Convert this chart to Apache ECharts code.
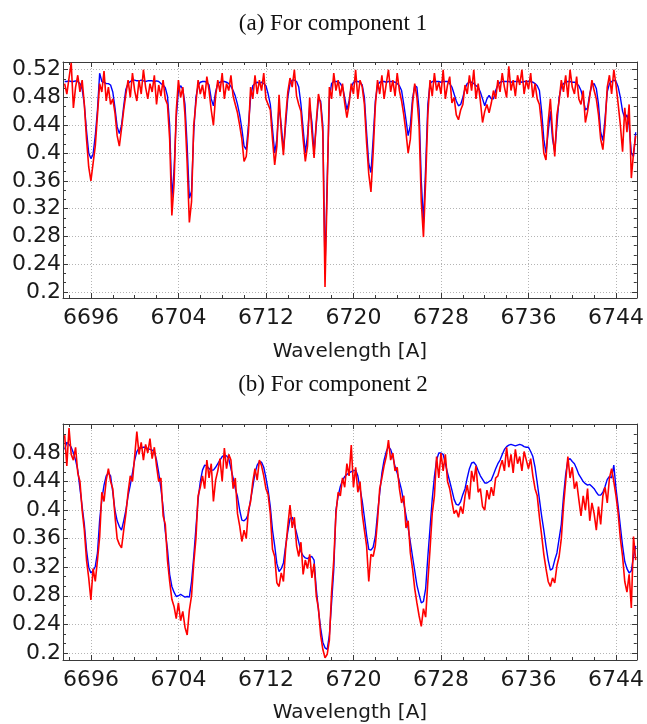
<!DOCTYPE html>
<html>
<head>
<meta charset="utf-8">
<script src="https://cdn.jsdelivr.net/npm/echarts@6/dist/echarts.min.js"></script>
<style>
html,body{margin:0;padding:0;background:#fff;}
#chart{width:647px;height:724px;}
</style>
</head>
<body>
<div id="chart"></div>
<script>
// wavelength grid (Angstrom)
const wlStart = 6693.6;
const wlStep = 0.2;

// tick labels
const xTicks = [6696, 6704, 6712, 6720, 6728, 6736, 6744];
const yTicks1 = [0.2, 0.24, 0.28, 0.32, 0.36, 0.4, 0.44, 0.48, 0.52];
const yTicks2 = [0.2, 0.24, 0.28, 0.32, 0.36, 0.4, 0.44, 0.48];

const titles = ['(a) For component 1', '(b) For component 2'];
const xName = 'Wavelength [A]';

// (a) component 1 : model (blue)
const model1 = [
0.503,0.503,0.504,0.503,0.503,0.504,0.503,0.500,0.492,0.470,
0.432,0.400,0.392,0.398,0.425,0.462,0.515,0.503,0.502,0.500,
0.500,0.498,0.488,0.465,0.438,0.428,0.440,0.468,0.492,0.500,
0.503,0.505,0.505,0.504,0.504,0.505,0.504,0.503,0.504,0.504,
0.504,0.503,0.504,0.503,0.500,0.498,0.494,0.482,0.440,0.335,
0.375,0.450,0.490,0.497,0.492,0.470,0.410,0.335,0.345,0.430,
0.480,0.497,0.502,0.503,0.503,0.502,0.498,0.478,0.468,0.488,
0.500,0.502,0.503,0.503,0.502,0.500,0.496,0.490,0.482,0.470,
0.455,0.435,0.410,0.405,0.440,0.480,0.497,0.500,0.502,0.500,
0.502,0.500,0.497,0.485,0.470,0.435,0.400,0.420,0.468,0.440,
0.405,0.440,0.480,0.500,0.505,0.505,0.503,0.495,0.470,0.435,
0.400,0.425,0.468,0.445,0.400,0.440,0.478,0.475,0.440,0.232,
0.360,0.480,0.500,0.503,0.503,0.503,0.500,0.495,0.480,0.462,
0.475,0.495,0.502,0.503,0.503,0.502,0.498,0.480,0.430,0.385,
0.372,0.420,0.475,0.498,0.502,0.503,0.503,0.502,0.503,0.503,
0.503,0.502,0.500,0.497,0.490,0.470,0.448,0.425,0.440,0.478,
0.497,0.495,0.462,0.360,0.300,0.380,0.470,0.500,0.503,0.503,
0.503,0.503,0.502,0.503,0.503,0.503,0.500,0.495,0.485,0.475,
0.468,0.470,0.480,0.493,0.500,0.502,0.502,0.500,0.497,0.495,
0.488,0.478,0.468,0.478,0.483,0.478,0.478,0.490,0.498,0.502,
0.503,0.503,0.503,0.503,0.502,0.503,0.503,0.503,0.503,0.502,
0.503,0.503,0.503,0.503,0.502,0.500,0.497,0.490,0.460,0.420,
0.400,0.430,0.460,0.420,0.402,0.440,0.480,0.495,0.500,0.502,
0.503,0.503,0.502,0.502,0.500,0.497,0.490,0.478,0.462,0.465,
0.485,0.498,0.500,0.493,0.470,0.430,0.418,0.450,0.488,0.500,
0.503,0.505,0.503,0.495,0.480,0.460,0.450,0.455,0.440,0.400,
0.395,0.430
];

// (a) component 1 : observed (red)
const obs1 = [
0.500,0.485,0.508,0.530,0.465,0.495,0.512,0.488,0.505,0.470,
0.420,0.380,0.360,0.385,0.410,0.455,0.500,0.488,0.518,0.475,
0.495,0.470,0.478,0.458,0.425,0.410,0.435,0.462,0.485,0.505,
0.480,0.515,0.490,0.475,0.505,0.485,0.520,0.495,0.478,0.500,
0.488,0.512,0.470,0.498,0.482,0.505,0.478,0.470,0.420,0.310,
0.355,0.460,0.505,0.480,0.495,0.455,0.385,0.300,0.330,0.440,
0.472,0.505,0.485,0.498,0.478,0.510,0.490,0.462,0.440,0.482,
0.505,0.488,0.515,0.478,0.500,0.490,0.512,0.482,0.470,0.458,
0.440,0.420,0.388,0.395,0.430,0.495,0.478,0.512,0.485,0.505,
0.490,0.515,0.478,0.470,0.462,0.420,0.383,0.410,0.484,0.430,
0.397,0.450,0.488,0.508,0.495,0.520,0.482,0.470,0.460,0.420,
0.388,0.410,0.480,0.430,0.393,0.445,0.485,0.470,0.430,0.207,
0.350,0.495,0.478,0.515,0.490,0.505,0.482,0.500,0.472,0.451,
0.470,0.500,0.485,0.520,0.478,0.505,0.495,0.470,0.415,0.370,
0.344,0.400,0.468,0.505,0.485,0.512,0.478,0.500,0.520,0.488,
0.505,0.482,0.515,0.490,0.475,0.455,0.430,0.400,0.420,0.470,
0.500,0.480,0.440,0.330,0.279,0.360,0.455,0.505,0.482,0.515,
0.490,0.502,0.485,0.520,0.478,0.498,0.510,0.472,0.480,0.455,
0.448,0.462,0.470,0.498,0.485,0.512,0.490,0.520,0.478,0.500,
0.475,0.444,0.460,0.470,0.458,0.472,0.490,0.478,0.505,0.488,
0.515,0.495,0.480,0.525,0.490,0.505,0.482,0.512,0.498,0.520,
0.485,0.505,0.492,0.515,0.480,0.500,0.478,0.470,0.440,0.400,
0.390,0.445,0.478,0.430,0.395,0.455,0.475,0.505,0.488,0.512,
0.480,0.520,0.495,0.485,0.510,0.478,0.470,0.490,0.444,0.460,
0.482,0.505,0.490,0.478,0.455,0.420,0.405,0.440,0.495,0.512,
0.485,0.520,0.498,0.470,0.440,0.402,0.465,0.430,0.470,0.364,
0.400,0.425
];

// (b) component 2 : model (blue)
const model2 = [
0.485,0.495,0.492,0.488,0.480,0.470,0.456,0.430,0.405,0.380,
0.344,0.320,0.312,0.315,0.321,0.340,0.386,0.415,0.435,0.448,
0.452,0.448,0.425,0.400,0.385,0.377,0.372,0.385,0.400,0.420,
0.435,0.452,0.470,0.482,0.487,0.487,0.488,0.488,0.486,0.485,
0.484,0.482,0.470,0.452,0.430,0.404,0.370,0.345,0.310,0.293,
0.285,0.279,0.280,0.282,0.280,0.278,0.279,0.278,0.300,0.335,
0.375,0.415,0.440,0.456,0.463,0.462,0.458,0.456,0.456,0.460,
0.465,0.470,0.475,0.477,0.476,0.472,0.458,0.445,0.430,0.419,
0.400,0.386,0.385,0.388,0.395,0.415,0.432,0.452,0.463,0.468,
0.467,0.460,0.445,0.428,0.405,0.372,0.350,0.325,0.314,0.318,
0.326,0.350,0.370,0.388,0.390,0.380,0.368,0.355,0.342,0.336,
0.333,0.332,0.334,0.335,0.330,0.290,0.260,0.235,0.215,0.207,
0.205,0.225,0.270,0.316,0.400,0.420,0.433,0.442,0.447,0.450,
0.452,0.454,0.455,0.456,0.448,0.430,0.413,0.390,0.365,0.345,
0.344,0.348,0.363,0.395,0.424,0.452,0.470,0.482,0.489,0.485,
0.475,0.461,0.452,0.440,0.428,0.410,0.393,0.375,0.355,0.335,
0.315,0.295,0.282,0.270,0.272,0.290,0.335,0.375,0.415,0.447,
0.470,0.480,0.480,0.478,0.465,0.452,0.440,0.428,0.415,0.408,
0.407,0.412,0.422,0.430,0.445,0.458,0.466,0.467,0.463,0.455,
0.448,0.443,0.438,0.438,0.440,0.442,0.450,0.458,0.465,0.470,
0.478,0.485,0.489,0.491,0.492,0.491,0.490,0.491,0.492,0.491,
0.489,0.488,0.488,0.482,0.475,0.460,0.438,0.415,0.392,0.372,
0.350,0.330,0.316,0.318,0.330,0.340,0.360,0.380,0.419,0.450,
0.470,0.472,0.468,0.465,0.458,0.450,0.445,0.440,0.437,0.435,
0.436,0.433,0.430,0.425,0.421,0.421,0.425,0.433,0.443,0.447,
0.445,0.463,0.430,0.405,0.377,0.350,0.328,0.318,0.312,0.315,
0.335,0.350
];

// (b) component 2 : observed (red)
const obs2 = [
0.505,0.462,0.515,0.478,0.470,0.488,0.452,0.440,0.400,0.372,
0.330,0.305,0.274,0.318,0.300,0.330,0.362,0.425,0.412,0.442,
0.458,0.440,0.430,0.392,0.360,0.352,0.347,0.372,0.395,0.425,
0.448,0.440,0.475,0.510,0.478,0.495,0.470,0.492,0.480,0.500,
0.472,0.488,0.462,0.440,0.445,0.392,0.380,0.330,0.300,0.275,
0.265,0.248,0.270,0.245,0.258,0.236,0.225,0.260,0.280,0.325,
0.360,0.420,0.432,0.448,0.430,0.470,0.445,0.465,0.412,0.442,
0.455,0.472,0.440,0.487,0.458,0.478,0.470,0.430,0.445,0.395,
0.378,0.356,0.372,0.360,0.400,0.412,0.440,0.458,0.442,0.470,
0.462,0.448,0.430,0.422,0.395,0.345,0.335,0.298,0.293,0.312,
0.300,0.345,0.378,0.407,0.375,0.390,0.350,0.335,0.355,0.310,
0.330,0.318,0.338,0.305,0.325,0.280,0.262,0.225,0.205,0.193,
0.198,0.218,0.285,0.330,0.395,0.425,0.420,0.445,0.432,0.465,
0.448,0.491,0.432,0.460,0.425,0.440,0.395,0.372,0.350,0.300,
0.338,0.335,0.350,0.385,0.430,0.445,0.462,0.475,0.498,0.470,
0.480,0.455,0.460,0.430,0.410,0.420,0.375,0.385,0.340,0.318,
0.290,0.270,0.252,0.237,0.262,0.250,0.300,0.345,0.395,0.420,
0.475,0.445,0.480,0.455,0.478,0.440,0.430,0.412,0.395,0.400,
0.390,0.405,0.395,0.420,0.435,0.415,0.455,0.440,0.462,0.425,
0.430,0.405,0.400,0.428,0.415,0.432,0.420,0.445,0.448,0.460,
0.470,0.455,0.488,0.460,0.478,0.452,0.485,0.465,0.475,0.455,
0.482,0.470,0.458,0.472,0.448,0.430,0.420,0.390,0.365,0.338,
0.318,0.300,0.293,0.305,0.298,0.322,0.335,0.360,0.405,0.440,
0.475,0.445,0.460,0.430,0.440,0.415,0.392,0.420,0.400,0.430,
0.385,0.410,0.395,0.372,0.405,0.380,0.420,0.432,0.410,0.445,
0.458,0.440,0.420,0.395,0.360,0.335,0.300,0.285,0.310,0.263,
0.363,0.330
];

const wavelength = model1.map((_, i) => +(wlStart + i * wlStep).toFixed(1));
const pairs = arr => arr.map((v, i) => [wavelength[i], v]);

const X_MIN = 6693.45, X_MAX = 6745.9;
const Y_RANGE = [[0.1913, 0.5311], [0.19, 0.5206]];
const xMinor = [];
for (let v = 6694; v <= 6745; v += 2) xMinor.push(v);
function yMinorFor(max) {
  const out = [];
  for (let j = 0; 0.2 + j * 0.04 / 3 <= max; j++) out.push(+(0.2 + j * 0.04 / 3).toFixed(5));
  return out;
}

const FRAME = '#3a3a3a';
const FONT = 'DejaVu Sans';
const grids = [
  { left: 63, right: 9, top: 62, height: 236 },
  { left: 63, right: 9, top: 424, height: 236 }
];

const xAxes = [], yAxes = [];
[0, 1].forEach(g => {
  const yTicks = g === 0 ? yTicks1 : yTicks2;
  const yMinor = yMinorFor(Y_RANGE[g][1]);
  const baseX = { gridIndex: g, type: 'value', min: X_MIN, max: X_MAX, axisPointer: { show: false } };
  const baseY = { gridIndex: g, type: 'value', min: Y_RANGE[g][0], max: Y_RANGE[g][1] };
  // x bottom major (labels + grid)
  xAxes.push(Object.assign({}, baseX, {
    position: 'bottom',
    axisLine: { show: true, onZero: false, lineStyle: { color: FRAME, width: 1 } },
    axisTick: { show: true, inside: true, length: 5, customValues: xTicks, lineStyle: { color: FRAME } },
    axisLabel: { show: true, customValues: xTicks, fontSize: 22, fontFamily: FONT, color: '#1a1a1a', margin: 9,
      formatter: v => String(v) },
    splitLine: { show: true, lineStyle: { type: [1, 2], color: '#b4b4b4', width: 1 } }
  }));
  // x bottom minor
  xAxes.push(Object.assign({}, baseX, {
    position: 'bottom',
    axisLine: { show: false },
    axisTick: { show: true, inside: true, length: 3, customValues: xMinor, lineStyle: { color: FRAME } },
    axisLabel: { show: false }, splitLine: { show: false }
  }));
  // x top major
  xAxes.push(Object.assign({}, baseX, {
    position: 'top',
    axisLine: { show: true, onZero: false, lineStyle: { color: FRAME, width: 1 } },
    axisTick: { show: true, inside: true, length: 5, customValues: xTicks, lineStyle: { color: FRAME } },
    axisLabel: { show: false }, splitLine: { show: false }
  }));
  // x top minor
  xAxes.push(Object.assign({}, baseX, {
    position: 'top',
    axisLine: { show: false },
    axisTick: { show: true, inside: true, length: 3, customValues: xMinor, lineStyle: { color: FRAME } },
    axisLabel: { show: false }, splitLine: { show: false }
  }));
  // y left major
  yAxes.push(Object.assign({}, baseY, {
    position: 'left',
    axisLine: { show: true, onZero: false, lineStyle: { color: FRAME, width: 1 } },
    axisTick: { show: true, inside: true, length: 5, customValues: yTicks, lineStyle: { color: FRAME } },
    axisLabel: { show: true, customValues: yTicks, fontSize: 22, fontFamily: FONT, color: '#1a1a1a', margin: 2,
      formatter: v => String(v) },
    splitLine: { show: true, lineStyle: { type: [1, 2], color: '#b4b4b4', width: 1 } }
  }));
  yAxes.push(Object.assign({}, baseY, {
    position: 'left',
    axisLine: { show: false },
    axisTick: { show: true, inside: true, length: 3, customValues: yMinor, lineStyle: { color: FRAME } },
    axisLabel: { show: false }, splitLine: { show: false }
  }));
  yAxes.push(Object.assign({}, baseY, {
    position: 'right',
    axisLine: { show: true, onZero: false, lineStyle: { color: FRAME, width: 1 } },
    axisTick: { show: true, inside: true, length: 5, customValues: yTicks, lineStyle: { color: FRAME } },
    axisLabel: { show: false }, splitLine: { show: false }
  }));
  yAxes.push(Object.assign({}, baseY, {
    position: 'right',
    axisLine: { show: false },
    axisTick: { show: true, inside: true, length: 3, customValues: yMinor, lineStyle: { color: FRAME } },
    axisLabel: { show: false }, splitLine: { show: false }
  }));
});

function lineSeries(g, data, color, z, w) {
  return {
    type: 'line', xAxisIndex: g * 4, yAxisIndex: g * 4, data: pairs(data),
    showSymbol: false, symbol: 'none', clip: true, z: z,
    lineStyle: { color: color, width: w }, emphasis: { disabled: true }
  };
}

const chart = echarts.init(document.getElementById('chart'), null, { renderer: 'canvas' });
chart.setOption({
  animation: false,
  backgroundColor: '#ffffff',
  title: [
    { text: titles[0], left: 333, top: 12, textAlign: 'center', padding: 0,
      textStyle: { fontFamily: 'Liberation Serif', fontWeight: 'normal', fontSize: 23, color: '#111' } },
    { text: xName, left: 350, top: 342, textAlign: 'center', padding: 0,
      textStyle: { fontFamily: FONT, fontWeight: 'normal', fontSize: 20, color: '#1a1a1a' } },
    { text: titles[1], left: 333, top: 373, textAlign: 'center', padding: 0,
      textStyle: { fontFamily: 'Liberation Serif', fontWeight: 'normal', fontSize: 23, color: '#111' } },
    { text: xName, left: 350, top: 703, textAlign: 'center', padding: 0,
      textStyle: { fontFamily: FONT, fontWeight: 'normal', fontSize: 20, color: '#1a1a1a' } }
  ],
  grid: grids,
  xAxis: xAxes,
  yAxis: yAxes,
  series: [
    lineSeries(0, model1, '#0000ff', 2, 1.4),
    lineSeries(0, obs1, '#ff0000', 3, 1.6),
    lineSeries(1, model2, '#0000ff', 2, 1.4),
    lineSeries(1, obs2, '#ff0000', 3, 1.6)
  ]
});
</script>
</body>
</html>
